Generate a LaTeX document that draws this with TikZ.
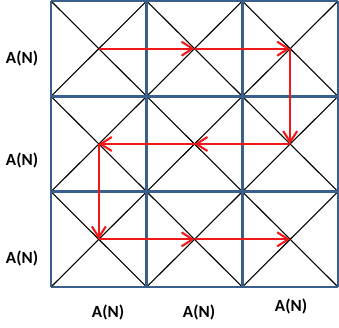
\documentclass[tikz,border=0pt]{standalone}
\usepackage{fontspec}
\setmainfont{Carlito}
\usetikzlibrary{arrows.meta}
\definecolor{gridblue}{HTML}{3A5F8C}
\definecolor{arrowred}{HTML}{F01818}
\tikzset{
  gridline/.style={draw=gridblue, line width=2.8pt},
  diagline/.style={draw=black, line width=1.1pt},
  path arrow/.style={draw=arrowred, line width=2.1pt, -{Straight Barb[length=11pt,width=14pt,line width=2.1pt]}},
  lbl/.style={font=\bfseries\fontsize{17}{19}\selectfont, inner sep=0pt}
}
\begin{document}
\begin{tikzpicture}[x=1pt,y=1pt]
\useasboundingbox (0,0) rectangle (339,327);
% grid geometry
\def\gx{51}\def\gy{40}\def\cw{95.67}\def\ch{95.33}
% diagonals
\foreach \i in {0,1,2}{
  \foreach \j in {0,1,2}{
    \draw[diagline] ({\gx+\i*\cw},{\gy+\j*\ch}) -- ({\gx+(\i+1)*\cw},{\gy+(\j+1)*\ch});
    \draw[diagline] ({\gx+\i*\cw},{\gy+(\j+1)*\ch}) -- ({\gx+(\i+1)*\cw},{\gy+\j*\ch});
  }
}
% grid lines
\foreach \k in {0,1,2,3}{
  \draw[gridline] ({\gx+\k*\cw},\gy) -- ({\gx+\k*\cw},{\gy+3*\ch});
  \draw[gridline] (\gx,{\gy+\k*\ch}) -- ({\gx+3*\cw},{\gy+\k*\ch});
}
% cell centres (column, row from top)
\foreach \i in {1,2,3}{
  \foreach \j in {1,2,3}{
    \coordinate (c\i\j) at ({\gx+(\i-0.5)*\cw},{\gy+(3.5-\j)*\ch});
  }
}
% path arrows
\draw[path arrow] (c11) -- (c21);
\draw[path arrow] (c21) -- (c31);
\draw[path arrow] (c31) -- (c32);
\draw[path arrow] (c32) -- (c22);
\draw[path arrow] (c22) -- (c12);
\draw[path arrow] (c12) -- (c13);
\draw[path arrow] (c13) -- (c23);
\draw[path arrow] (c23) -- (c33);
% labels
\node[lbl] (l1) at (22,269) {A(N)};
\node[lbl] (l2) at (22,167) {A(N)};
\node[lbl] (l3) at (22,69) {A(N)};
\node[lbl] (b1) at (108,15) {A(N)};
\node[lbl] (b2) at (199,15) {A(N)};
\node[lbl] (b3) at (291,21) {A(N)};
\end{tikzpicture}
\end{document}
